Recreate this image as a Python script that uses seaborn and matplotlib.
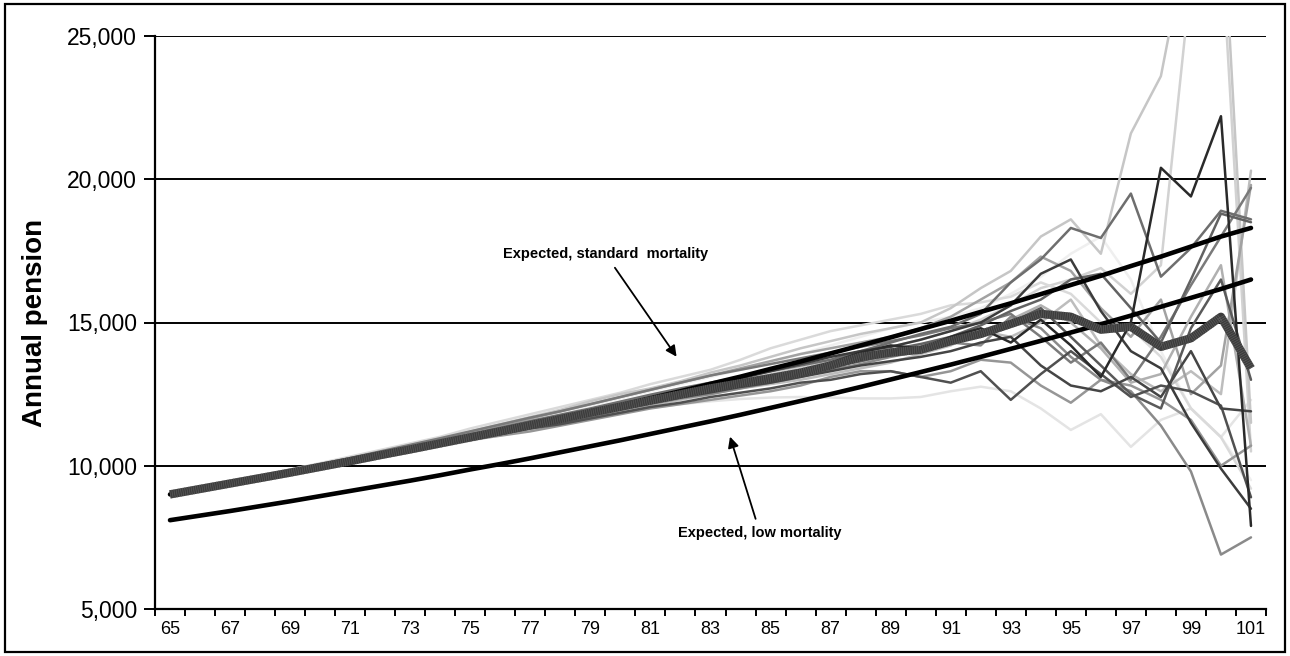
import matplotlib
matplotlib.use("Agg")
import matplotlib.pyplot as plt
import matplotlib.ticker as mticker
from matplotlib.patches import Rectangle
import seaborn as sns
import pandas as pd

# ---------------- data ----------------
ages = list(range(65, 102))

expected_standard = [9000, 9180, 9360, 9550, 9740, 9940, 10130, 10340, 10540, 10760,
                     10970, 11190, 11410, 11640, 11880, 12110, 12360, 12600, 12860, 13110,
                     13380, 13640, 13920, 14200, 14480, 14770, 15060, 15370, 15670, 15990,
                     16310, 16630, 16970, 17300, 17650, 18000, 18300]

expected_low = [8100, 8260, 8420, 8590, 8760, 8940, 9120, 9300, 9480, 9670,
                9870, 10060, 10260, 10470, 10680, 10890, 11110, 11330, 11550, 11780,
                12020, 12260, 12500, 12750, 13010, 13270, 13530, 13800, 14080, 14360,
                14650, 14940, 15240, 15550, 15860, 16170, 16500]

average_sim = [9000, 9190, 9380, 9570, 9760, 9960, 10160, 10370, 10570, 10780,
               10990, 11200, 11420, 11630, 11850, 12060, 12280, 12490, 12700, 12880,
               13060, 13250, 13500, 13800, 13950, 14050, 14350, 14600, 14950, 15300,
               15200, 14750, 14850, 14150, 14450, 15200, 13400]

sim01 = [9000, 9210, 9420, 9600, 9790, 10000, 10220, 10430, 10620, 10840, 11060, 11290, 11500, 11700, 11930, 12150, 12380, 12600, 12850, 13050, 13300, 13550, 13800, 14000, 14150, 14400, 14700, 15000, 15600, 16700, 17200, 15400, 14000, 13400, 11500, 9900, 8500]
sim02 = [9000, 9180, 9370, 9560, 9770, 9970, 10150, 10360, 10580, 10790, 11000, 11200, 11400, 11620, 11850, 12080, 12300, 12500, 12720, 12900, 13100, 13300, 13600, 13950, 14200, 14100, 14500, 14800, 14300, 15100, 14200, 13100, 15000, 20400, 19400, 22200, 7900]
sim03 = [9000, 9190, 9400, 9590, 9800, 10010, 10230, 10440, 10660, 10880, 11100, 11330, 11560, 11780, 12000, 12240, 12480, 12700, 12900, 13100, 13300, 13500, 13700, 14000, 14300, 14600, 14850, 15300, 16400, 17200, 18300, 17950, 19500, 16600, 17600, 18900, 18600]
sim04 = [9000, 9200, 9400, 9610, 9830, 10050, 10260, 10480, 10700, 10930, 11200, 11450, 11700, 11950, 12250, 12500, 12700, 12950, 13250, 13500, 13800, 14100, 14350, 14600, 14800, 15000, 15500, 16200, 16800, 18000, 18600, 17400, 21600, 23600, 29000, 30500, 11500]
sim05 = [9000, 9180, 9360, 9550, 9750, 9950, 10150, 10360, 10570, 10780, 11000, 11220, 11440, 11660, 11880, 12100, 12320, 12540, 12760, 12980, 13200, 13420, 13650, 13900, 14150, 14400, 14700, 15100, 15600, 16200, 16500, 16900, 16000, 17000, 27000, 28500, 10500]
sim06 = [9000, 9170, 9350, 9540, 9730, 9930, 10130, 10330, 10540, 10740, 10900, 11100, 11300, 11500, 11700, 11950, 12150, 12350, 12500, 12700, 12900, 13100, 13350, 13550, 13800, 14000, 14300, 14200, 15200, 14800, 13800, 13000, 12600, 11400, 9800, 6900, 7500]
sim07 = [9000, 9190, 9380, 9580, 9770, 9970, 10170, 10380, 10580, 10790, 10950, 11100, 11300, 11450, 11650, 11850, 12050, 12200, 12400, 12550, 12700, 12900, 13000, 13200, 13300, 13100, 12900, 13300, 12300, 13200, 14000, 13200, 12400, 12800, 12600, 12100, 8900]
sim08 = [9000, 9170, 9340, 9520, 9700, 9890, 10080, 10270, 10470, 10670, 10870, 11070, 11280, 11480, 11690, 11880, 12020, 12150, 12250, 12330, 12380, 12400, 12380, 12350, 12350, 12400, 12600, 12760, 12600, 12000, 11250, 11800, 10660, 11600, 12000, 11000, 12300]
sim09 = [9000, 9200, 9400, 9600, 9810, 10020, 10230, 10450, 10670, 10900, 11150, 11400, 11650, 11900, 12150, 12400, 12650, 12900, 13150, 13400, 13650, 13900, 14100, 14300, 14500, 14800, 15200, 15800, 16400, 17300, 16800, 15500, 14500, 15800, 12500, 13500, 19800]
sim10 = [9000, 9190, 9380, 9570, 9760, 9960, 10160, 10360, 10560, 10770, 10900, 11100, 11300, 11500, 11700, 11900, 12100, 12300, 12500, 12700, 12850, 13000, 13200, 13400, 13600, 13900, 14200, 14700, 14500, 15000, 15800, 14200, 13200, 12600, 13300, 12500, 20300]
sim11 = [9000, 9180, 9370, 9560, 9750, 9950, 10150, 10350, 10550, 10750, 10960, 11170, 11380, 11590, 11800, 12010, 12230, 12440, 12650, 12850, 13050, 13250, 13450, 13650, 13900, 14100, 14300, 14600, 15000, 15500, 14500, 13500, 12500, 12000, 14800, 16500, 13000]
sim12 = [9000, 9200, 9390, 9580, 9780, 9980, 10190, 10400, 10610, 10820, 10900, 11050, 11200, 11400, 11600, 11800, 12000, 12150, 12300, 12450, 12600, 12800, 13100, 13300, 13300, 13100, 13300, 13700, 13600, 12800, 12200, 13000, 12800, 12300, 11600, 10000, 10700]
sim13 = [9000, 9210, 9430, 9650, 9870, 10090, 10320, 10550, 10780, 11010, 11300, 11550, 11800, 12050, 12300, 12550, 12850, 13100, 13350, 13700, 14100, 14400, 14700, 14900, 15100, 15300, 15600, 15700, 15900, 16400, 16000, 15000, 14800, 13800, 12000, 11000, 9200]
sim14 = [9000, 9200, 9410, 9620, 9830, 10050, 10270, 10500, 10730, 10960, 11200, 11440, 11680, 11900, 12150, 12400, 12650, 12900, 13150, 13350, 13550, 13750, 13950, 14150, 14350, 14550, 14800, 15000, 15300, 14500, 13600, 14300, 13000, 14500, 16300, 18000, 19700]
sim15 = [9000, 9190, 9380, 9570, 9760, 9960, 10160, 10360, 10570, 10780, 10950, 11150, 11350, 11550, 11780, 11980, 12180, 12380, 12560, 12750, 12900, 13100, 13300, 13500, 13650, 13800, 14000, 14300, 14500, 13500, 12800, 12600, 13100, 12400, 14000, 12000, 11900]
sim16 = [9000, 9170, 9350, 9530, 9720, 9920, 10120, 10320, 10520, 10720, 10930, 11140, 11350, 11560, 11770, 11980, 12200, 12420, 12640, 12850, 13050, 13250, 13450, 13650, 13850, 14050, 14250, 14600, 15100, 15600, 15000, 14100, 12900, 13200, 15200, 17000, 10700]
sim17 = [9000, 9190, 9390, 9590, 9790, 9990, 10200, 10410, 10620, 10830, 11100, 11350, 11600, 11850, 12100, 12350, 12600, 12850, 13100, 13350, 13600, 13900, 14200, 14500, 14800, 15000, 15200, 15500, 16000, 16600, 17400, 18000, 16500, 14000, 12000, 11000, 9500]
sim18 = [9000, 9180, 9360, 9550, 9740, 9940, 10140, 10340, 10550, 10760, 10970, 11180, 11400, 11610, 11830, 12050, 12260, 12480, 12690, 12900, 13100, 13300, 13550, 13800, 14050, 14250, 14500, 14900, 15400, 15800, 16500, 16700, 15500, 14300, 16500, 18800, 18500]

sim_series = [sim17, sim08, sim05, sim13, sim04, sim10, sim16, sim09, sim12, sim06,
              sim14, sim03, sim18, sim11, sim07, sim15, sim01, sim02]
sim_colors = ["#efefef", "#e4e4e4", "#d2d2d2", "#dadada", "#c6c6c6", "#bdbdbd",
              "#b0b0b0", "#a2a2a2", "#969696", "#8a8a8a", "#7a7a7a", "#6e6e6e",
              "#626262", "#5a5a5a", "#505050", "#454545", "#3c3c3c", "#2a2a2a"]

y_ticks = [5000, 10000, 15000, 20000, 25000]
x_tick_labels = [str(a) for a in range(65, 102, 2)]

# ---------------- figure ----------------
sns.set_style("white")
plt.rcParams["font.family"] = ["Liberation Sans", "DejaVu Sans"]
plt.rcParams["text.color"] = "black"
plt.rcParams["axes.labelcolor"] = "black"
plt.rcParams["xtick.color"] = "black"
plt.rcParams["ytick.color"] = "black"

fig = plt.figure(figsize=(12.9, 6.56), dpi=100)
ax = fig.add_axes([155 / 1290, 1 - 609 / 656, (1266 - 155) / 1290, (609 - 36) / 656])

rows = []
for i, s in enumerate(sim_series):
    for a, v in zip(ages, s):
        rows.append({"age": a, "pension": v, "sim": f"s{i:02d}"})
df = pd.DataFrame(rows)
palette = {f"s{i:02d}": c for i, c in enumerate(sim_colors)}
sns.lineplot(data=df, x="age", y="pension", hue="sim", palette=palette,
             legend=False, linewidth=1.8, estimator=None, ax=ax, zorder=3)

sns.lineplot(x=ages, y=expected_standard, color="black", linewidth=3.3, ax=ax, zorder=4)
sns.lineplot(x=ages, y=expected_low, color="black", linewidth=3.3, ax=ax, zorder=4)
sns.lineplot(x=ages, y=average_sim, color="#3c3c3c", linewidth=6.0, ax=ax, zorder=5,
             solid_capstyle="butt")
ax.plot(ages, average_sim, color="#5c5c5c", linewidth=6.0, dashes=(0.08, 0.18),
        dash_capstyle="butt", zorder=6)

# axes styling
ax.set_xlim(64.5, 101.5)
ax.set_ylim(5000, 25000)
ax.set_yticks(y_ticks)
ax.yaxis.set_major_formatter(mticker.StrMethodFormatter("{x:,.0f}"))
ax.set_xticks(list(range(65, 102, 2)))
ax.set_xticklabels(x_tick_labels)
ax.set_xticks([a + 0.5 for a in range(64, 102)], minor=True)
ax.tick_params(axis="x", which="major", length=0, pad=9, labelsize=13, labelcolor="black")
ax.tick_params(axis="x", which="minor", length=5, width=1.4, direction="out",
               color="black", bottom=True)
ax.tick_params(axis="y", which="major", length=8, width=1.4, direction="out",
               color="black", left=True, pad=5, labelsize=16.5, labelcolor="black")

for y in y_ticks[1:]:
    ax.axhline(y, color="black", linewidth=1.4, zorder=1)

for side in ["top", "right"]:
    ax.spines[side].set_visible(False)
for side in ["left", "bottom"]:
    ax.spines[side].set_color("black")
    ax.spines[side].set_linewidth(1.6)

ax.set_xlabel("")
ax.set_ylabel("Annual pension", fontsize=20, fontweight="bold", labelpad=14, color="black")
ax.grid(False)

# annotations
ax.annotate("Expected, standard  mortality", xy=(81.87, 13806), xytext=(79.5, 17390),
            ha="center", va="center", fontsize=10.5, fontweight="bold", color="black",
            arrowprops=dict(arrowstyle="-|>", color="black", lw=1.3,
                            mutation_scale=16, shrinkA=3, shrinkB=0),
            zorder=7)
ax.annotate("Expected, low mortality", xy=(83.65, 11015), xytext=(84.65, 7650),
            ha="center", va="center", fontsize=10.5, fontweight="bold", color="black",
            arrowprops=dict(arrowstyle="-|>", color="black", lw=1.3,
                            mutation_scale=16, shrinkA=3, shrinkB=0),
            zorder=7)

# outer chart border
fig.patches.append(Rectangle((5 / 1290, 4 / 656), 1280 / 1290, 648 / 656,
                             transform=fig.transFigure, fill=False,
                             edgecolor="black", linewidth=1.6))

fig.savefig("out.png", dpi=100, facecolor="white")
